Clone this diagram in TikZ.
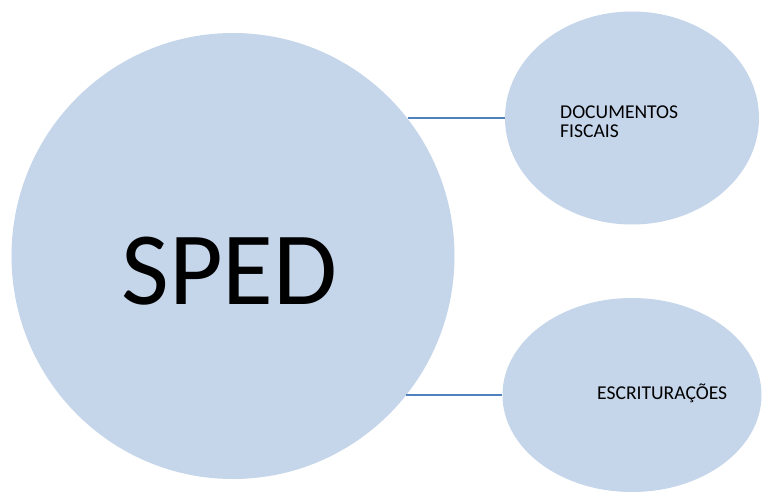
\documentclass[tikz,border=0pt]{standalone}
\usepackage{fontspec}
\setmainfont{Carlito}
\usetikzlibrary{shapes.geometric}
\definecolor{bubblefill}{RGB}{197,213,234}
\definecolor{linkblue}{RGB}{79,129,189}
\begin{document}
\begin{tikzpicture}[x=1pt, y=-1pt,
        bubble/.style={ellipse, fill=bubblefill, inner sep=0pt},
        link/.style={draw=linkblue, line width=1.5pt},
        caption/.style={inner sep=0pt, font=\fontsize{19.6}{19}\selectfont}]
        \useasboundingbox (0,0) rectangle (769,498);
        % the three bubbles
        \node[bubble, minimum width=443pt, minimum height=446pt] (sped) at (233,256) {};
        \node[bubble, minimum width=254pt, minimum height=213pt] (docs) at (632,118) {};
        \node[bubble, minimum width=259pt, minimum height=194pt] (escr) at (632,395) {};
        % texts
        \node[inner sep=0pt, anchor=base, font=\fontsize{104}{110}\selectfont] (spedtext) at (229.5,304) {SPED};
        \node[caption, anchor=north west, align=left] (docstext) at (560,105.5) {DOCUMENTOS\\FISCAIS};
        \node[caption, anchor=base west] (escrtext) at (597,399) {ESCRITURAÇÕES};
        % links
        \draw[link] (sped.38.4 |- docs.west) -- (docs.west);
        \draw[link] (sped.-39 |- escr.west) -- (escr.west);
\end{tikzpicture}
\end{document}
